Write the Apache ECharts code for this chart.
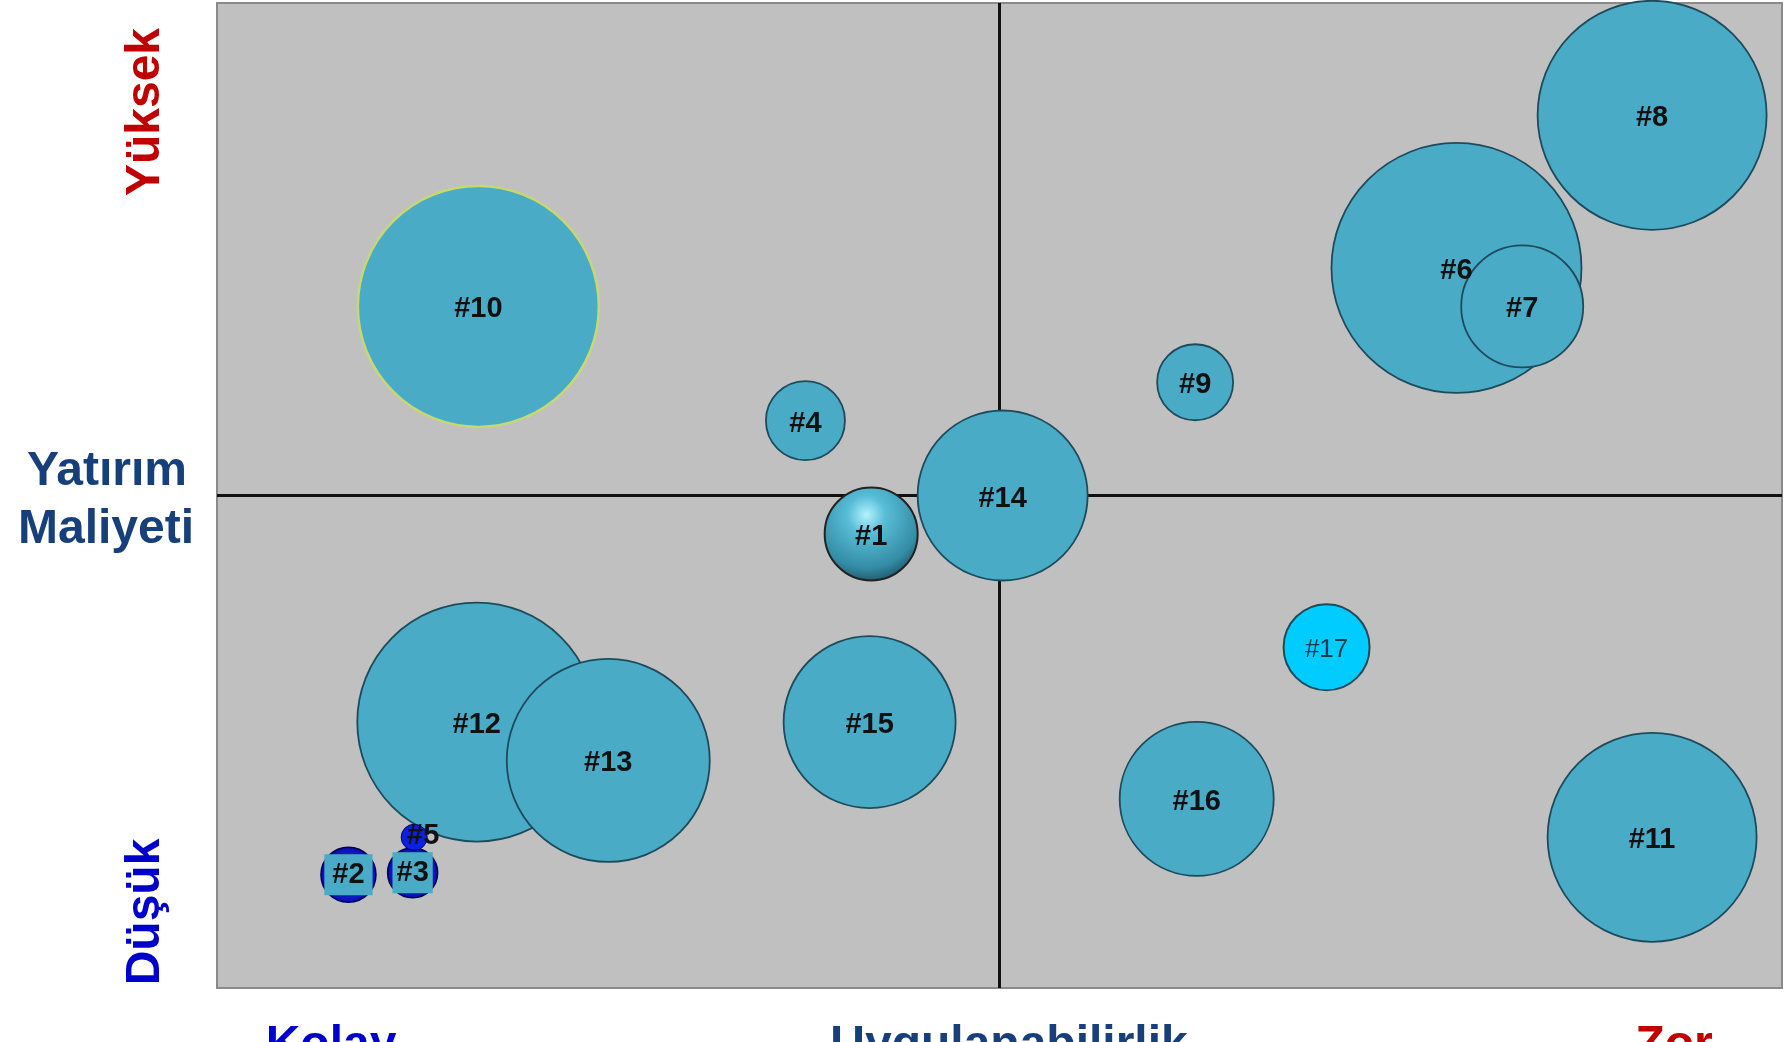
<!DOCTYPE html>
<html>
<head>
<meta charset="utf-8">
<script src="https://cdn.jsdelivr.net/npm/echarts@6/dist/echarts.min.js"></script>
<style>
html,body{margin:0;padding:0;background:#fff;}
#chart{width:1791px;height:1042px;}
</style>
</head>
<body>
<div id="chart"></div>
<script>
// Project labels (drawing order: earlier ones lie underneath)
const names = ['#10','#12','#13','#6','#7','#8','#11','#14','#15','#16','#4','#9','#17','#1','#2','#3','#5'];
// Uygulanabilirlik (0 = Kolay, 10 = Zor)
const xVals = [1.67, 1.66, 2.50, 7.92, 8.34, 9.17, 9.17, 5.02, 4.17, 6.26, 3.76, 6.25, 7.09, 4.18, 0.84, 1.25, 1.26];
// Yatırım Maliyeti (0 = Düşük, 10 = Yüksek)
const yVals = [6.92, 2.70, 2.31, 7.31, 6.92, 8.86, 1.53, 5.00, 2.70, 1.92, 5.76, 6.15, 3.46, 4.61, 1.15, 1.17, 1.53];
// Bubble magnitude
const sizes = [24.1, 23.9, 20.3, 25.0, 12.2, 22.9, 20.9, 17.0, 17.2, 15.4, 7.9, 7.6, 8.6, 9.3, 5.5, 5.0, 2.6];
// Quadrant dividers
const midX = 5, midY = 5;

const baseFill = '#4aabc7';
const baseBorder = '#1e4b5c';
const special = {
  '#10': {itemStyle:{color:baseFill, borderColor:'#c8d870', borderWidth:2.5}},
  '#17': {itemStyle:{color:'#00ccff', borderColor:baseBorder, borderWidth:2},
          label:{fontWeight:'normal', fontSize:26, color:'#1a3a4a'}},
  '#1': {itemStyle:{color:{type:'radial', x:0.45, y:0.3, r:0.8, colorStops:[
            {offset:0, color:'#b4f2ff'}, {offset:0.25, color:'#58bdd7'},
            {offset:0.7, color:'#348ca5'}, {offset:1, color:'#143b4a'}]},
          borderColor:'#222', borderWidth:2}},
  '#2': {itemStyle:{color:{type:'radial', x:0.5, y:0.5, r:0.6, colorStops:[
            {offset:0, color:'#2a4cff'}, {offset:1, color:'#0000a0'}]},
          borderColor:'#000050', borderWidth:1.5},
         label:{backgroundColor:baseFill, padding:[6,8,6,8], offset:[0,0]}},
  '#3': {itemStyle:{color:{type:'radial', x:0.5, y:0.5, r:0.6, colorStops:[
            {offset:0, color:'#2a4cff'}, {offset:1, color:'#0000a0'}]},
          borderColor:'#000050', borderWidth:1.5},
         label:{backgroundColor:baseFill, padding:[6,4,6,4], offset:[0,0]}},
  '#5': {itemStyle:{color:'#0a22e0', borderColor:'#000060', borderWidth:1},
         label:{offset:[9,-1]}}
};

const data = names.map((n, i) => {
  const d = {name:n, value:[xVals[i], yVals[i], sizes[i]]};
  const s = special[n] || {};
  d.itemStyle = Object.assign({color:baseFill, borderColor:baseBorder, borderWidth:1.8, opacity:1}, s.itemStyle || {});
  if (s.label) d.label = s.label;
  return d;
});

const chart = echarts.init(document.getElementById('chart'), null, {renderer:'canvas'});
const font = '"Liberation Sans", Arial, sans-serif';
chart.setOption({
  animation:false,
  backgroundColor:'#ffffff',
  grid:{left:217, top:3, width:1565, height:985, show:true,
        backgroundColor:'#c0c0c0', borderColor:'#8a8a8a', borderWidth:2},
  xAxis:{type:'value', min:0, max:10, show:false},
  yAxis:{type:'value', min:0, max:10, show:false},
  series:[
    {
      type:'scatter', data:[], z:1, silent:true,
      markLine:{
        z:1, silent:true, symbol:'none', label:{show:false},
        lineStyle:{color:'#111', width:3, type:'solid'},
        data:[{xAxis:midX}, {yAxis:midY}]
      }
    },
    {
      type:'scatter', z:10,
      data:data,
      symbol:'circle',
      symbolSize:(v) => v[2]*10,
      itemStyle:{opacity:1},
      label:{show:true, position:'inside', formatter:'{b}', offset:[0,3],
             fontFamily:font, fontWeight:'bold', fontSize:29, color:'#111'},
      emphasis:{disabled:true}
    }
  ],
  graphic:[
    {type:'text', x:146, y:112, rotation:Math.PI/2,
     style:{text:'Yüksek', font:'bold 48px '+font, fill:'#c00000', align:'center', verticalAlign:'middle'}},
    {type:'text', x:146, y:912, rotation:Math.PI/2,
     style:{text:'Düşük', font:'bold 48px '+font, fill:'#0000cc', align:'center', verticalAlign:'middle'}},
    {type:'text', x:107, y:472,
     style:{text:'Yatırım', font:'bold 48px '+font, fill:'#17407a', align:'center', verticalAlign:'middle'}},
    {type:'text', x:106, y:530,
     style:{text:'Maliyeti', font:'bold 48px '+font, fill:'#17407a', align:'center', verticalAlign:'middle'}},
    {type:'text', x:331, y:1046,
     style:{text:'Kolay', font:'bold 48px '+font, fill:'#0000cc', align:'center', verticalAlign:'middle'}},
    {type:'text', x:1009, y:1046,
     style:{text:'Uygulanabilirlik', font:'bold 48px '+font, fill:'#17407a', align:'center', verticalAlign:'middle'}},
    {type:'text', x:1674, y:1046,
     style:{text:'Zor', font:'bold 48px '+font, fill:'#c00000', align:'center', verticalAlign:'middle'}}
  ]
});
</script>
</body>
</html>
